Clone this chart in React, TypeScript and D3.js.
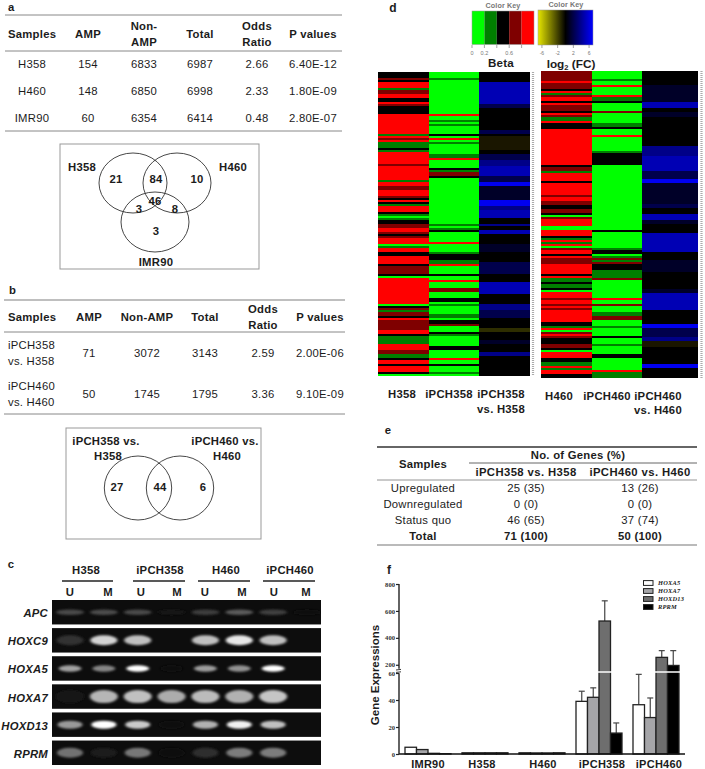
import React from "react";
import * as d3 from "d3";

const SANS = "'Liberation Sans', Arial, sans-serif";
const SERIF = "'Liberation Serif', 'Times New Roman', serif";
const INK = "#1c1c1c";

// ---- panel a
const tableAColumns = ["AMP", "Non-AMP", "Total", "Odds Ratio", "P values"];
const tableASamples = ["H358", "H460", "IMR90"];
const tableAAmp = ["154", "148", "60"];
const tableANonAmp = ["6833", "6850", "6354"];
const tableATotal = ["6987", "6998", "6414"];
const tableAOdds = ["2.66", "2.33", "0.48"];
const tableAP = ["6.40E-12", "1.80E-09", "2.80E-07"];

// ---- panel b
const tableBSamples = [["iPCH358", "vs. H358"], ["iPCH460", "vs. H460"]];
const tableBAmp = ["71", "50"];
const tableBNonAmp = ["3072", "1745"];
const tableBTotal = ["3143", "1795"];
const tableBOdds = ["2.59", "3.36"];
const tableBP = ["2.00E-06", "9.10E-09"];

// ---- panel c
const gelGroups = ["H358", "iPCH358", "H460", "iPCH460"];
const gelLanes = ["U", "M", "U", "M", "U", "M", "U", "M"];
const gelGenes = ["APC", "HOXC9", "HOXA5", "HOXA7", "HOXD13", "RPRM"];
const gelThickness = [2.8, 5, 3.2, 6.5, 4, 5];
const gelSpread = [14, 13.5, 11.5, 14, 12.5, 13];
const gelIntensity = [
  [0.25, 0.26, 0.25, 0.03, 0.2, 0.32, 0.22, 0.02],
  [0.16, 0.82, 0.74, 0, 0.74, 0.9, 0.74, 0],
  [0.62, 0.5, 1, 0.02, 0.6, 0.55, 1, 0],
  [0.04, 0.7, 0.74, 0.66, 0.72, 0.68, 0.76, 0],
  [0.58, 1, 0.78, 0.02, 0.68, 0.94, 0.74, 0],
  [0.42, 0.07, 0.44, 0.02, 0.14, 0.46, 0.46, 0],
];

// ---- panel d, one code per run of rows: level + row count
const betaLevels = ["G", "g", "k", "r", "R"];
const betaColors = ["#00ff00", "#007f00", "#000000", "#7f0000", "#ff0000"];
const fcLevels = ["k", "y", "o", "d", "n", "m", "b", "B"];
const fcColors = ["#000000", "#1a1600", "#2e2e00", "#000028", "#00004c", "#000088", "#0000b4", "#0000f0"];

const h358Runs = "k3 r1 k1 R3 g1 r2 R2 k2 R1 r1 k4 R10 g1 R1 r1 R1 g3 k1 g1 R6 r1 R7 g1 R2 r2 R3 r1 k1 R1 k1 g1 R3 k1 g1 G1 g1 k2 r2 R2 r1 k1 r1 R3 G1 g1 R2 k2 R4 k1 r4 k1 G1 R13 G1 k1 r1 g1 r2 k1 R1 r5 R2 k1 g4 R1 R2 r2 g2 k1 R2 k1 R3 k1 G1";
const ipch358Runs = "G3 g1 G17 R1 G2 g1 G1 g1 G4 k1 G1 R1 G1 g1 G5 g2 R1 G4 k1 g1 r2 k1 G23 g1 G1 g1 k1 G1 G4 R1 G4 g1 k3 g2 R1 G4 k1 G2 R1 G3 r2 G3 k2 G1 g1 G1 G3 g2 G1 k2 r1 G3 k1 g1 G5 k2 G4 R1 G2 k1 G3 g1 G1";
const ipch358FcRuns = "k5 b11 n2 k11 n2 k1 y7 k2 n3 m3 b5 n3 B2 d7 B3 m2 b4 k3 m1 k2 b2 k5 d4 k5 n6 k4 b6 k5 m3 n4 k5 o2 k4 d2 k4 m2 k10";
const h460Runs = "r5 R1 r3 k1 R1 g1 r1 R2 k1 R1 r2 r1 k1 R1 r1 g2 R1 k3 R18 k1 r2 g1 R4 k1 R6 r1 R2 r2 k2 r2 k1 G1 r1 R4 G2 R2 R1 k1 g1 R1 g1 R1 G1 r1 R2 k1 R1 r3 R5 k1 R1 g2 k1 g2 k1 G1 R3 r1 R2 r1 R1 r1 R6 k2 g1 R1 G1 r1 R1 r1 k3 r2 k1 G1 R3 k2 g2 R1 g1 R2 k2";
const ipch460Runs = "G4 g1 G2 R1 G4 R1 g1 g1 k1 G4 r1 G5 g1 g1 k1 G3 R1 G7 g1 k1 k5 G33 k1 G1 G7 g1 k2 G1 g1 r1 g1 r1 k3 g4 r1 G9 R1 G2 r1 G3 g2 r2 G3 g1 G4 k1 G3 g1 G4 k2 G6 R1 g3";
const ipch460FcRuns = "k7 d9 b3 k2 d3 k15 m5 b8 n4 B2 d11 n2 k3 b3 d2 k5 b3 b7 k4 d6 k9 d2 b9 k7 B2 n5 m2 y3 k9 B2 k5";
const heatLabels = [["H358"], ["iPCH358"], ["iPCH358", "vs. H358"], ["H460"], ["iPCH460"], ["iPCH460", "vs. H460"]];
const betaTicks = ["0", "0.2", "0.6"];
const fcTicks = [-6, -2, 2, 6];

// ---- panel e
const tableERows = ["Upregulated", "Downregulated", "Status quo", "Total"];
const tableE358 = ["25 (35)", "0 (0)", "46 (65)", "71 (100)"];
const tableE460 = ["13 (26)", "0 (0)", "37 (74)", "50 (100)"];

// ---- panel f
const barGroups = ["IMR90", "H358", "H460", "iPCH358", "iPCH460"];
const barGenes = ["HOXA5", "HOXA7", "HOXD13", "RPRM"];
const barColors = ["#ffffff", "#a5a5a8", "#6e6e6e", "#000000"];
const hoxa5 = [5, 0.9, 0.9, 39, 36.5];
const hoxa7 = [3.3, 0.9, 0.8, 42, 27];
const hoxd13 = [0.5, 0.9, 0.8, 525, 255];
const rprm = [0.2, 0.9, 0.9, 15.5, 195];
const hoxa5Top = [null, null, null, 46.5, 59];
const hoxa7Top = [null, null, null, 49, 41.5];
const hoxd13Top = [null, null, null, 675, 305];
const rprmTop = [null, null, null, 23, 305];
const lowerTicks = [0, 20, 40, 60];
const upperTicks = [200, 400, 600, 800];

const parseRuns = (s: string) => {
  let start = 0;
  return s.split(" ").map((r) => {
    const n = +r.slice(1);
    const run = { level: r[0], start, n };
    start += n;
    return run;
  });
};

const Txt = ({ x, y, a = "middle", w = 400, s = 11.3, c = INK, f = SANS, i = false, children, ls = 0.25 }: any) => (
  <text x={x} y={y} textAnchor={a} fontWeight={w} fontSize={s} fill={c} fontFamily={f} fontStyle={i ? "italic" : "normal"} letterSpacing={ls}>
    {children}
  </text>
);

const TableA = () => {
  const cols = [88, 144, 200, 257, 313];
  const rowY = d3.scalePoint<number>().domain([0, 1, 2]).range([68, 122]);
  const values = [tableAAmp, tableANonAmp, tableATotal, tableAOdds, tableAP];
  return (
    <g>
      <Txt x={8} y={11} a="start" w={700}>a</Txt>
      <line x1={5} x2={342} y1={15} y2={15} stroke="#888" strokeWidth={1} />
      <line x1={5} x2={342} y1={51} y2={51} stroke="#888" strokeWidth={1} />
      <line x1={5} x2={342} y1={131} y2={131} stroke="#888" strokeWidth={1} />
      <Txt x={8} y={38} a="start" w={700}>Samples</Txt>
      <Txt x={cols[0]} y={38} w={700}>{tableAColumns[0]}</Txt>
      <Txt x={cols[1]} y={30} w={700}>Non-</Txt>
      <Txt x={cols[1]} y={46} w={700}>AMP</Txt>
      <Txt x={cols[2]} y={38} w={700}>{tableAColumns[2]}</Txt>
      <Txt x={cols[3]} y={30} w={700}>Odds</Txt>
      <Txt x={cols[3]} y={46} w={700}>Ratio</Txt>
      <Txt x={cols[4]} y={38} w={700}>{tableAColumns[4]}</Txt>
      {tableASamples.map((name, r) => (
        <g key={name}>
          <Txt x={32} y={rowY(r)}>{name}</Txt>
          {values.map((col, c) => (
            <Txt key={c} x={cols[c]} y={rowY(r)}>{col[r]}</Txt>
          ))}
        </g>
      ))}
    </g>
  );
};

const VennA = () => (
  <g>
    <rect x={60} y={144} width={199} height={125} fill="none" stroke="#999" strokeWidth={1} />
    <g fill="none" stroke="#333" strokeWidth={0.9}>
      <ellipse cx={133} cy={183} rx={34} ry={30} />
      <ellipse cx={177} cy={183} rx={34} ry={30} />
      <ellipse cx={155} cy={222} rx={34} ry={30} />
    </g>
    <Txt x={82} y={171} w={700}>H358</Txt>
    <Txt x={233} y={171} w={700}>H460</Txt>
    <Txt x={116} y={183} w={700}>21</Txt>
    <Txt x={156} y={183} w={700}>84</Txt>
    <Txt x={197} y={183} w={700}>10</Txt>
    <Txt x={155} y={205} w={700}>46</Txt>
    <Txt x={139} y={213} w={700}>3</Txt>
    <Txt x={175} y={213} w={700}>8</Txt>
    <Txt x={156} y={235} w={700}>3</Txt>
    <Txt x={156} y={266} w={700}>IMR90</Txt>
  </g>
);

const TableB = () => {
  const cols = [89, 147, 205, 263, 320];
  const values = [tableBAmp, tableBNonAmp, tableBTotal, tableBOdds, tableBP];
  const rowY = [357, 398];
  return (
    <g>
      <Txt x={9} y={294} a="start" w={700}>b</Txt>
      <line x1={4} x2={345} y1={300} y2={300} stroke="#aaa" strokeWidth={1.6} />
      <line x1={4} x2={345} y1={332} y2={332} stroke="#888" strokeWidth={1} />
      <line x1={4} x2={345} y1={414} y2={414} stroke="#888" strokeWidth={1} />
      <Txt x={8} y={321} a="start" w={700}>Samples</Txt>
      <Txt x={cols[0]} y={321} w={700}>AMP</Txt>
      <Txt x={cols[1]} y={321} w={700}>Non-AMP</Txt>
      <Txt x={cols[2]} y={321} w={700}>Total</Txt>
      <Txt x={cols[3]} y={313} w={700}>Odds</Txt>
      <Txt x={cols[3]} y={329} w={700}>Ratio</Txt>
      <Txt x={cols[4]} y={321} w={700}>P values</Txt>
      {tableBSamples.map((lines, r) => (
        <g key={r}>
          <Txt x={8} y={rowY[r] - 8} a="start">{lines[0]}</Txt>
          <Txt x={8} y={rowY[r] + 8} a="start">{lines[1]}</Txt>
          {values.map((col, c) => (
            <Txt key={c} x={cols[c]} y={rowY[r]}>{col[r]}</Txt>
          ))}
        </g>
      ))}
    </g>
  );
};

const VennB = () => (
  <g>
    <rect x={66} y={428} width={195} height={111} fill="none" stroke="#999" strokeWidth={1} />
    <g fill="none" stroke="#333" strokeWidth={0.9}>
      <ellipse cx={138} cy={488} rx={33.7} ry={32} />
      <ellipse cx={180} cy={488} rx={33.7} ry={32} />
    </g>
    <Txt x={106} y={445} w={700}>iPCH358 vs.</Txt>
    <Txt x={108} y={460} w={700}>H358</Txt>
    <Txt x={225} y={445} w={700}>iPCH460 vs.</Txt>
    <Txt x={227} y={460} w={700}>H460</Txt>
    <Txt x={117} y={491} w={700}>27</Txt>
    <Txt x={160} y={491} w={700}>44</Txt>
    <Txt x={203} y={491} w={700}>6</Txt>
  </g>
);

const Gel = () => {
  const laneX = d3.scalePoint<number>().domain(d3.range(8)).range([70, 307]);
  const rowTop = d3.scaleBand<string>().domain(gelGenes).range([600, 765]).paddingInner(0.13);
  const gray = d3.scaleLinear<string>().domain([0, 1]).range(["#0c0c0c", "#ffffff"]);
  const headerX = [86, 160, 226, 290];
  const underline = [[62, 113], [133, 185], [198, 250], [263, 315]];
  const laneLabelX = [70, 108, 141, 177, 205, 242, 274, 306];
  const h = rowTop.bandwidth();
  return (
    <g>
      <defs>
        <filter id="bandBlur" x="-30%" y="-60%" width="160%" height="220%">
          <feGaussianBlur stdDeviation="1.6 1.3" />
        </filter>
        <clipPath id="gelClip">
          {gelGenes.map((g) => (
            <rect key={g} x={52} y={rowTop(g)} width={269} height={h} />
          ))}
        </clipPath>
      </defs>
      <Txt x={11} y={568} a="middle" w={700}>c</Txt>
      {gelGroups.map((g, i) => (
        <g key={g}>
          <Txt x={headerX[i]} y={574} w={700}>{g}</Txt>
          <line x1={underline[i][0]} x2={underline[i][1]} y1={581} y2={581} stroke="#222" strokeWidth={1.4} />
        </g>
      ))}
      {gelLanes.map((l, i) => (
        <Txt key={i} x={laneLabelX[i]} y={596} w={700}>{l}</Txt>
      ))}
      {gelGenes.map((g) => (
        <g key={g}>
          <rect x={52} y={rowTop(g)} width={269} height={h} fill="#0d0d0d" />
          <Txt x={48} y={rowTop(g)! + h / 2 + 5} a="end" w={700} i>{g}</Txt>
        </g>
      ))}
      <g clipPath="url(#gelClip)">
        {gelGenes.map((g, r) =>
          gelIntensity[r].map((v, i) =>
            v > 0 ? (
              <ellipse
                key={g + i}
                cx={laneX(i)}
                cy={rowTop(g)! + h / 2}
                rx={gelSpread[r]}
                ry={gelThickness[r]}
                fill={gray(v)}
                filter="url(#bandBlur)"
              />
            ) : null
          )
        )}
      </g>
    </g>
  );
};

const HeatColumn = ({ runs, x, width, top, height, levels, colors }: any) => {
  const parsed = parseRuns(runs);
  const total = d3.sum(parsed, (d: any) => d.n);
  const y = d3.scaleLinear().domain([0, total]).range([top, top + height]);
  const color = d3.scaleOrdinal<string, string>().domain(levels).range(colors);
  return (
    <g shapeRendering="crispEdges">
      {parsed.map((d: any, i: number) => (
        <rect key={i} x={x} y={y(d.start)} width={width} height={y(d.start + d.n) - y(d.start)} fill={color(d.level)} />
      ))}
    </g>
  );
};

const Heatmap = () => {
  const betaKey = d3.scaleBand<string>().domain(betaLevels).range([472, 534]);
  const fcKey = d3.scaleLinear().domain([-7, 7]).range([538, 593]);
  const left = d3.scaleLinear().domain([0, 1, 2, 3]).range([378, 429, 479, 530]);
  const right = d3.scaleLinear().domain([0, 1, 2, 3]).range([541, 592, 642, 698]);
  return (
    <g>
      <Txt x={393} y={12} w={700} s={12}>d</Txt>
      <defs>
        <linearGradient id="fcGrad" x1="0" x2="1" y1="0" y2="0">
          <stop offset="0" stopColor="#e6e600" />
          <stop offset="0.5" stopColor="#000" />
          <stop offset="1" stopColor="#0000ff" />
        </linearGradient>
      </defs>
      <Txt x={503} y={8} s={7.2} w={700} c="#777" ls={0.1}>Color Key</Txt>
      <Txt x={566} y={7} s={7.2} w={700} c="#777" ls={0.1}>Color Key</Txt>
      {betaLevels.map((l, i) => (
        <rect key={l} x={betaKey(l)} y={11} width={betaKey.bandwidth()} height={33.5} fill={betaColors[i]} />
      ))}
      <rect x={472} y={11} width={62} height={33.5} fill="none" stroke="#999" strokeWidth={0.5} />
      <rect x={538} y={10} width={55} height={35} fill="url(#fcGrad)" stroke="#999" strokeWidth={0.5} />
      {[0, 0.2, 0.4, 0.6, 0.8].map((t, i) => (
        <line key={t} x1={472 + i * 12.4} x2={472 + i * 12.4} y1={45} y2={48} stroke="#666" strokeWidth={0.6} />
      ))}
      {betaTicks.map((t) => (
        <text key={t} x={472 + (+t / 0.2) * 12.4} y={55} textAnchor="middle" fontSize={5.5} fill="#777" fontFamily={SANS}>{t}</text>
      ))}
      {fcTicks.map((t) => (
        <g key={t}>
          <line x1={fcKey(t)} x2={fcKey(t)} y1={45} y2={48} stroke="#666" strokeWidth={0.6} />
          <text x={fcKey(t)} y={54.5} textAnchor="middle" fontSize={5} fill="#777" fontFamily={SANS}>{t}</text>
        </g>
      ))}
      <Txt x={501} y={67} s={11.6} w={700}>Beta</Txt>
      <text x={571} y={67.5} textAnchor="middle" fontSize={11.8} fontWeight={700} fill={INK} fontFamily={SANS}>
        log<tspan fontSize={7.5} dy={2.5}>2</tspan><tspan dy={-2.5}> (FC)</tspan>
      </text>

      {[h358Runs, ipch358Runs].map((runs, i) => (
        <HeatColumn key={i} runs={runs} x={left(i)} width={left(i + 1) - left(i)} top={72} height={304} levels={betaLevels} colors={betaColors} />
      ))}
      <HeatColumn runs={ipch358FcRuns} x={left(2)} width={left(3) - left(2)} top={72} height={304} levels={fcLevels} colors={fcColors} />
      {[h460Runs, ipch460Runs].map((runs, i) => (
        <HeatColumn key={i} runs={runs} x={right(i)} width={right(i + 1) - right(i)} top={71} height={307} levels={betaLevels} colors={betaColors} />
      ))}
      <HeatColumn runs={ipch460FcRuns} x={right(2)} width={right(3) - right(2)} top={71} height={307} levels={fcLevels} colors={fcColors} />

      <line x1={533} x2={533} y1={72} y2={376} stroke="#aaa" strokeWidth={2.2} strokeDasharray="1 1" />
      <line x1={701.5} x2={701.5} y1={71} y2={378} stroke="#aaa" strokeWidth={2.2} strokeDasharray="1 1" />

      {[402, 449, 501, 559, 607, 658].map((x, i) => (
        <g key={i}>
          <Txt x={x} y={i < 3 ? 398 : 400} w={700}>{heatLabels[i][0]}</Txt>
          {heatLabels[i][1] && <Txt x={x} y={i < 3 ? 413 : 414} w={700}>{heatLabels[i][1]}</Txt>}
        </g>
      ))}
    </g>
  );
};

const TableE = () => {
  const rowY = d3.scalePoint<number>().domain([0, 1, 2, 3]).range([492, 540]);
  return (
    <g>
      <Txt x={388} y={434} w={700}>e</Txt>
      <line x1={377} x2={697} y1={447} y2={447} stroke="#333" strokeWidth={1.7} />
      <line x1={469} x2={697} y1={463} y2={463} stroke="#555" strokeWidth={0.9} />
      <line x1={377} x2={697} y1={480} y2={480} stroke="#888" strokeWidth={0.9} />
      <line x1={377} x2={697} y1={545} y2={545} stroke="#777" strokeWidth={1.2} />
      <Txt x={578} y={459} w={700}>No. of Genes (%)</Txt>
      <Txt x={423} y={468} w={700}>Samples</Txt>
      <Txt x={526} y={476} w={700} ls={0.4}>iPCH358 vs. H358</Txt>
      <Txt x={640} y={476} w={700} ls={0.4}>iPCH460 vs. H460</Txt>
      {tableERows.map((name, i) => {
        const w = name === "Total" ? 700 : 400;
        return (
          <g key={name}>
            <Txt x={423} y={rowY(i)} w={w}>{name}</Txt>
            <Txt x={526} y={rowY(i)} w={w}>{tableE358[i]}</Txt>
            <Txt x={640} y={rowY(i)} w={w}>{tableE460[i]}</Txt>
          </g>
        );
      })}
    </g>
  );
};

const YAxis = ({ scale, ticks, top, bottom }: any) => {
  const ref = (el: SVGGElement | null) => {
    if (!el) return;
    const g = d3.select(el);
    g.call(d3.axisLeft(scale).tickValues(ticks).tickSize(3).tickPadding(1) as any);
    g.attr("font-family", SERIF).attr("font-size", 6.6).attr("font-weight", 700);
    g.select(".domain").remove();
    g.selectAll("line").attr("stroke", "#222").attr("stroke-width", 1.2);
    g.selectAll("text").attr("fill", "#333");
    g.selectAll(".spine").remove();
    g.append("line").attr("class", "spine").attr("y1", scale(top)).attr("y2", scale(bottom)).attr("stroke", "#222").attr("stroke-width", 1.4);
  };
  return <g transform="translate(399,0)" ref={ref} />;
};

const Bars = () => {
  // broken axis: 0-60 below the gap, 150-800 above it
  const y = d3.scaleLinear().domain([0, 60, 150, 800]).range([754, 673, 671.5, 584]);
  const x = d3.scaleBand<string>().domain(barGroups).range([405, 679]).paddingInner(0.193);
  const xInner = d3.scaleBand<string>().domain(barGenes).range([0, x.bandwidth()]);
  const series = [hoxa5, hoxa7, hoxd13, rprm];
  const tops = [hoxa5Top, hoxa7Top, hoxd13Top, rprmTop];
  const labelNudge = [0, -3, 1, 3, 3];
  const legendY = d3.scalePoint<string>().domain(barGenes).range([583, 607]);
  return (
    <g>
      <Txt x={389} y={574} w={700} s={12}>f</Txt>
      {barGroups.map((g, gi) =>
        barGenes.map((gene, si) => {
          const v = series[si][gi];
          const top = tops[si][gi];
          const bx = x(g)! + xInner(gene)!;
          const cx = bx + xInner.bandwidth() / 2;
          return (
            <g key={g + gene}>
              {top != null && (
                <g stroke="#444" strokeWidth={1.2}>
                  <line x1={cx} x2={cx} y1={y(v)} y2={y(top)} />
                  <line x1={cx - 3} x2={cx + 3} y1={y(top)} y2={y(top)} />
                </g>
              )}
              <rect x={bx} y={y(v)} width={xInner.bandwidth()} height={754 - y(v)} fill={barColors[si]} stroke="#222" strokeWidth={1.3} />
            </g>
          );
        })
      )}
      <line x1={396} x2={686} y1={672} y2={672} stroke="#fff" strokeWidth={1.5} />
      <line x1={399} x2={685} y1={754} y2={754} stroke="#111" strokeWidth={1.4} />
      <YAxis scale={y} ticks={lowerTicks} top={59.9} bottom={0} />
      <YAxis scale={y} ticks={upperTicks} top={800} bottom={170} />
      <line x1={396} x2={401} y1={670} y2={669.4} stroke="#222" strokeWidth={0.9} />
      <line x1={396} x2={401} y1={672.4} y2={671.8} stroke="#222" strokeWidth={0.9} />
      <text transform="translate(379,675) rotate(-90)" textAnchor="middle" fontSize={11.5} fontWeight={700} fontFamily={SANS} fill={INK}>
        Gene Expressions
      </text>
      {barGroups.map((g, i) => (
        <Txt key={g} x={x(g)! + x.bandwidth() / 2 + labelNudge[i]} y={768} w={700} s={11}>{g}</Txt>
      ))}
      {barGenes.map((gene, i) => (
        <g key={gene}>
          <rect x={643.5} y={legendY(gene)! - 2.4} width={9.5} height={4.8} fill={barColors[i]} stroke="#222" strokeWidth={1} />
          <Txt x={658} y={legendY(gene)! + 2} a="start" f={SERIF} i w={700} s={6.4} ls={0.2}>{gene}</Txt>
        </g>
      ))}
    </g>
  );
};

export default function App() {
  return (
    <svg width={705} height={769} viewBox="0 0 705 769" style={{ position: "absolute", left: 0, top: 0, background: "#fff", display: "block" }}>
      <TableA />
      <VennA />
      <TableB />
      <VennB />
      <Gel />
      <Heatmap />
      <TableE />
      <Bars />
    </svg>
  );
}
